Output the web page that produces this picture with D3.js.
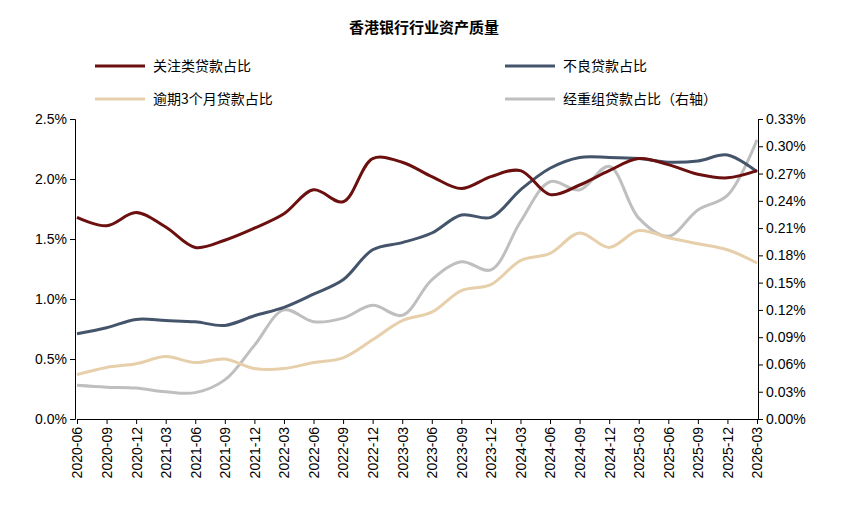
<!DOCTYPE html>
<html><head><meta charset="utf-8">
<script src="https://cdn.jsdelivr.net/npm/d3@7"></script>
<style>body{margin:0;background:#fff;font-family:"Noto Sans CJK SC",Arial,sans-serif}</style>
</head><body><svg id="c"></svg>
<script>
var quarters = ["2020-06","2020-09","2020-12","2021-03","2021-06","2021-09","2021-12","2022-03","2022-06","2022-09","2022-12","2023-03","2023-06","2023-09","2023-12","2024-03","2024-06","2024-09","2024-12","2025-03","2025-06","2025-09","2025-12","2026-03"]
var special = [1.68,1.61,1.72,1.60,1.43,1.49,1.59,1.71,1.91,1.81,2.17,2.14,2.02,1.92,2.02,2.07,1.87,1.95,2.07,2.17,2.12,2.04,2.01,2.07]
var npl = [0.71,0.76,0.83,0.82,0.81,0.78,0.86,0.93,1.04,1.16,1.41,1.47,1.55,1.70,1.68,1.91,2.09,2.18,2.18,2.17,2.14,2.15,2.20,2.06]
var overdue = [0.37,0.43,0.46,0.52,0.47,0.50,0.42,0.42,0.47,0.51,0.66,0.82,0.89,1.07,1.12,1.32,1.38,1.55,1.43,1.57,1.51,1.46,1.41,1.30]
var restructured = [0.037,0.035,0.034,0.030,0.029,0.043,0.081,0.120,0.107,0.111,0.125,0.114,0.153,0.173,0.164,0.217,0.261,0.252,0.278,0.221,0.201,0.230,0.246,0.307]
var leftTicks = [0,0.5,1.0,1.5,2.0,2.5]
var rightTicks = [0,0.03,0.06,0.09,0.12,0.15,0.18,0.21,0.24,0.27,0.30,0.33]

var W = 848, H = 508
var m = {top:119, bottom:89, left:75, right:90}
var svg = d3.select("#c").attr("width",W).attr("height",H)
var x = d3.scalePoint().domain(quarters).range([m.left+2, W-m.right-1])
var yL = d3.scaleLinear().domain([0,2.5]).range([H-m.bottom, m.top])
var yR = d3.scaleLinear().domain([0,0.33]).range([H-m.bottom, m.top])

svg.append("text").attr("x",424).attr("y",33).attr("text-anchor","middle")
  .attr("font-size",15).attr("font-weight","bold").text("香港银行行业资产质量")

var legend = [
  {name:"关注类贷款占比", color:"#6b0f0f", x:95, y:66},
  {name:"不良贷款占比", color:"#44546a", x:505, y:66},
  {name:"逾期3个月贷款占比", color:"#e6cfaa", x:95, y:99},
  {name:"经重组贷款占比（右轴）", color:"#bfbfbf", x:505, y:99}
]
legend.forEach(function(d){
  svg.append("line").attr("x1",d.x).attr("x2",d.x+50).attr("y1",d.y).attr("y2",d.y)
    .attr("stroke",d.color).attr("stroke-width",3)
  svg.append("text").attr("x",d.x+58).attr("y",d.y+5).attr("font-size",14).text(d.name)
})

var yAxisL = d3.axisLeft(yL).tickValues(leftTicks).tickFormat(function(d){return d.toFixed(1)+"%"}).tickSize(5)
svg.append("g").attr("transform","translate("+m.left+",0)").call(yAxisL)
var yAxisR = d3.axisRight(yR).tickValues(rightTicks).tickFormat(function(d){return d.toFixed(2)+"%"}).tickSize(5)
svg.append("g").attr("transform","translate("+(W-m.right)+",0)").call(yAxisR)
var xAxis = d3.axisBottom(x).tickSize(5)
var gx = svg.append("g").attr("transform","translate(0,"+(H-m.bottom)+")").call(xAxis)
gx.selectAll("text").attr("transform","rotate(-90)").attr("text-anchor","end")
  .attr("x",-8).attr("y",0).attr("dy","0.35em")
svg.selectAll(".tick text").attr("font-size",14).attr("fill","#000").attr("font-family","Arial, Liberation Sans, sans-serif")
svg.selectAll(".domain, .tick line").attr("stroke","#000")

function draw(vals, scale, color){
  var line = d3.line().x(function(d,i){return x(quarters[i])}).y(function(d){return scale(d)}).curve(d3.curveCatmullRom.alpha(0.5))
  svg.append("path").datum(vals).attr("d",line).attr("fill","none").attr("stroke",color).attr("stroke-width",3)
}
draw(restructured, yR, "#bfbfbf")
draw(overdue, yL, "#e6cfaa")
draw(npl, yL, "#44546a")
draw(special, yL, "#6b0f0f")
</script></body></html>
